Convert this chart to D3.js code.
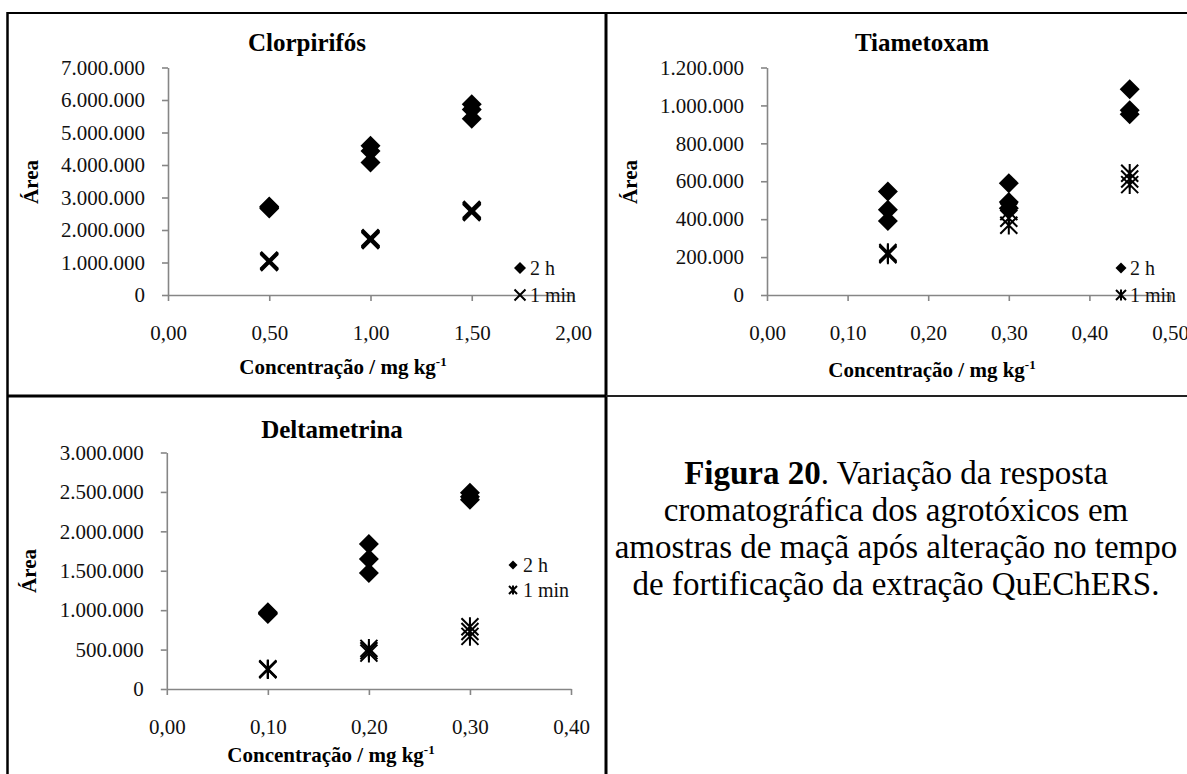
<!DOCTYPE html>
<html>
<head>
<meta charset="utf-8">
<script src="https://cdn.jsdelivr.net/npm/d3@7"></script>
<style>
  body { margin: 0; background: #fff; }
  svg { display: block; }
  text { font-family: "Liberation Serif", "Times New Roman", serif; }
</style>
</head>
<body>
<svg id="fig" width="1187" height="774"></svg>
<script>
// ---- Clorpirifós ----
const clorConc   = [0.5, 0.5, 0.5, 1.0, 1.0, 1.0, 1.5, 1.5, 1.5];
const clor2h     = [2660000, 2700000, 2720000, 4080000, 4430000, 4590000, 5420000, 5710000, 5870000];
const clor1min   = [1010000, 1040000, 1060000, 1690000, 1720000, 1750000, 2550000, 2580000, 2620000];
const clorXTicks = [0, 0.5, 1.0, 1.5, 2.0];
const clorYTicks = [0, 1000000, 2000000, 3000000, 4000000, 5000000, 6000000, 7000000];

// ---- Tiametoxam ----
const tiaConc    = [0.15, 0.15, 0.15, 0.30, 0.30, 0.30, 0.45, 0.45, 0.45];
const tia2h      = [390000, 450000, 546000, 458000, 490000, 590000, 953000, 975000, 1085000];
const tia1min    = [212000, 218000, 224000, 368000, 405000, 440000, 582000, 612000, 642000];
const tiaXTicks  = [0, 0.1, 0.2, 0.3, 0.4, 0.5];
const tiaYTicks  = [0, 200000, 400000, 600000, 800000, 1000000, 1200000];

// ---- Deltametrina ----
const delConc    = [0.1, 0.1, 0.1, 0.2, 0.2, 0.2, 0.3, 0.3, 0.3];
const del2h      = [950000, 960000, 972000, 1470000, 1650000, 1840000, 2400000, 2440000, 2490000];
const del1min    = [245000, 250000, 256000, 455000, 485000, 515000, 668000, 730000, 790000];
const delXTicks  = [0, 0.1, 0.2, 0.3, 0.4];
const delYTicks  = [0, 500000, 1000000, 1500000, 2000000, 2500000, 3000000];

const seriesNames = ["2 h", "1 min"];
const panelTitles = ["Clorpirifós", "Tiametoxam", "Deltametrina"];
const xAxisTitle  = "Concentração / mg kg";
const xAxisSup    = "-1";
const yAxisTitle  = "Área";
const captionBold = "Figura 20";
const captionLines = [
  ". Variação da resposta",
  "cromatográfica dos agrotóxicos em",
  "amostras de maçã após alteração no tempo",
  "de fortificação da extração QuEChERS."
];

// Portuguese number formatting: "7.000.000" and "0,50"
const ptBR = d3.formatLocale({ decimal: ",", thousands: ".", grouping: [3], currency: ["R$", ""] });
const fmtY = ptBR.format(",.0f");
const fmtX = ptBR.format(".2f");

// Marker shapes
const diamond = {
  draw(ctx, size) {
    const r = Math.sqrt(size) / 2;
    ctx.moveTo(0, -r); ctx.lineTo(r, 0); ctx.lineTo(0, r); ctx.lineTo(-r, 0); ctx.closePath();
  }
};
const cross = {
  draw(ctx, size) {
    const r = Math.sqrt(size) / 2;
    ctx.moveTo(-r, -r); ctx.lineTo(r, r);
    ctx.moveTo(r, -r); ctx.lineTo(-r, r);
  }
};
const star = {
  draw(ctx, size) {
    const r = Math.sqrt(size) / 2;
    ctx.moveTo(-r, -r); ctx.lineTo(r, r);
    ctx.moveTo(r, -r); ctx.lineTo(-r, r);
    ctx.moveTo(0, -r * 1.1); ctx.lineTo(0, r * 1.1);
  }
};

const svg = d3.select("#fig");
const AXIS_GREY = "#868686";

const panels = [
  {
    title: panelTitles[0], conc: clorConc, s2h: clor2h, s1m: clor1min,
    xTicks: clorXTicks, yTicks: clorYTicks, minMarker: cross, minStroke: 3,
    plot: { left: 168, right: 573, top: 67.5, bottom: 295 },
    titlePos: [307, 51], xTitlePos: [343, 374], yTitlePos: [38, 182],
    legend: { x: 520, y1: 268, y2: 295, tx: 530, legSize: 12 }
  },
  {
    title: panelTitles[1], conc: tiaConc, s2h: tia2h, s1m: tia1min,
    xTicks: tiaXTicks, yTicks: tiaYTicks, minMarker: star, minStroke: 2,
    plot: { left: 767, right: 1170, top: 67.5, bottom: 295 },
    titlePos: [922, 51], xTitlePos: [932, 377], yTitlePos: [637, 182],
    legend: { x: 1121, y1: 268, y2: 295, tx: 1130, legSize: 11 }
  },
  {
    title: panelTitles[2], conc: delConc, s2h: del2h, s1m: del1min,
    xTicks: delXTicks, yTicks: delYTicks, minMarker: star, minStroke: 2,
    plot: { left: 166.8, right: 571, top: 452.5, bottom: 689 },
    titlePos: [332, 438], xTitlePos: [331, 762], yTitlePos: [36, 571],
    legend: { x: 513, y1: 565, y2: 590, tx: 523, legSize: 9 }
  }
];

panels.forEach(p => {
  const g = svg.append("g");
  const x = d3.scaleLinear().domain(d3.extent(p.xTicks)).range([p.plot.left, p.plot.right]);
  const y = d3.scaleLinear().domain(d3.extent(p.yTicks)).range([p.plot.bottom, p.plot.top]);

  // axes
  const xAxis = g.append("g")
    .attr("transform", `translate(0,${p.plot.bottom})`)
    .call(d3.axisBottom(x).tickValues(p.xTicks).tickFormat(fmtX)
      .tickSize(6).tickSizeOuter(0).tickPadding(24));
  const yAxis = g.append("g")
    .attr("transform", `translate(${p.plot.left},0)`)
    .call(d3.axisLeft(y).tickValues(p.yTicks).tickFormat(fmtY)
      .tickSize(6).tickSizeOuter(0).tickPadding(17));
  [xAxis, yAxis].forEach(a => {
    a.attr("font-family", null).attr("font-size", null);
    a.select(".domain").attr("stroke", AXIS_GREY).attr("stroke-width", 1.6);
    a.selectAll(".tick line").attr("stroke", AXIS_GREY).attr("stroke-width", 1.6);
    a.selectAll(".tick text").attr("fill", "#111").style("font-size", "21px");
  });

  // 1 min series
  g.append("g").selectAll("path")
    .data(p.conc.map((c, i) => [c, p.s1m[i]]))
    .join("path")
    .attr("transform", d => `translate(${x(d[0])},${y(d[1])})`)
    .attr("d", d3.symbol().type(p.minMarker).size(17 * 17))
    .attr("fill", "none").attr("stroke", "#000").attr("stroke-width", p.minStroke);

  // 2 h series
  g.append("g").selectAll("path")
    .data(p.conc.map((c, i) => [c, p.s2h[i]]))
    .join("path")
    .attr("transform", d => `translate(${x(d[0])},${y(d[1])})`)
    .attr("d", d3.symbol().type(diamond).size(20 * 20))
    .attr("fill", "#000");

  // titles
  g.append("text")
    .attr("x", p.titlePos[0]).attr("y", p.titlePos[1])
    .attr("text-anchor", "middle").attr("font-weight", "bold").attr("font-size", 25)
    .text(p.title);

  const xt = g.append("text")
    .attr("x", p.xTitlePos[0]).attr("y", p.xTitlePos[1])
    .attr("text-anchor", "middle").attr("font-weight", "bold").attr("font-size", 21);
  xt.append("tspan").text(xAxisTitle);
  xt.append("tspan").attr("font-size", 13).attr("dy", -8).text(xAxisSup);

  g.append("text")
    .attr("transform", `translate(${p.yTitlePos[0]},${p.yTitlePos[1]}) rotate(-90)`)
    .attr("text-anchor", "middle").attr("font-weight", "bold").attr("font-size", 21)
    .text(yAxisTitle);

  // legend
  const L = p.legend;
  g.append("path")
    .attr("transform", `translate(${L.x},${L.y1})`)
    .attr("d", d3.symbol().type(diamond).size(L.legSize * L.legSize))
    .attr("fill", "#000");
  g.append("path")
    .attr("transform", `translate(${L.x},${L.y2})`)
    .attr("d", d3.symbol().type(p.minMarker).size((L.legSize - 1) * (L.legSize - 1)))
    .attr("fill", "none").attr("stroke", "#000").attr("stroke-width", 2);
  g.append("text").attr("x", L.tx).attr("y", L.y1 + 7).attr("font-size", 20).attr("fill", "#111").text(seriesNames[0]);
  g.append("text").attr("x", L.tx).attr("y", L.y2 + 7).attr("font-size", 20).attr("fill", "#111").text(seriesNames[1]);
});

// panel frames
const frame = svg.append("g").attr("stroke", "#000").attr("fill", "none");
frame.append("line").attr("x1", 7).attr("x2", 1187).attr("y1", 13).attr("y2", 13).attr("stroke-width", 2.2);
frame.append("line").attr("x1", 7.5).attr("x2", 7.5).attr("y1", 12).attr("y2", 774).attr("stroke-width", 2.5);
frame.append("line").attr("x1", 606).attr("x2", 606).attr("y1", 12).attr("y2", 774).attr("stroke-width", 3);
frame.append("line").attr("x1", 7).attr("x2", 606).attr("y1", 396).attr("y2", 396).attr("stroke-width", 3);
frame.append("line").attr("x1", 606).attr("x2", 1187).attr("y1", 396).attr("y2", 396).attr("stroke-width", 2).attr("stroke", "#222");

// caption
const cap = svg.append("g").attr("font-size", 33).attr("fill", "#000").attr("text-anchor", "middle");
captionLines.forEach((line, i) => {
  const t = cap.append("text").attr("x", 896).attr("y", 484 + i * 37);
  if (i === 0) t.append("tspan").attr("font-weight", "bold").text(captionBold);
  t.append("tspan").text(line);
});
</script>
</body>
</html>
